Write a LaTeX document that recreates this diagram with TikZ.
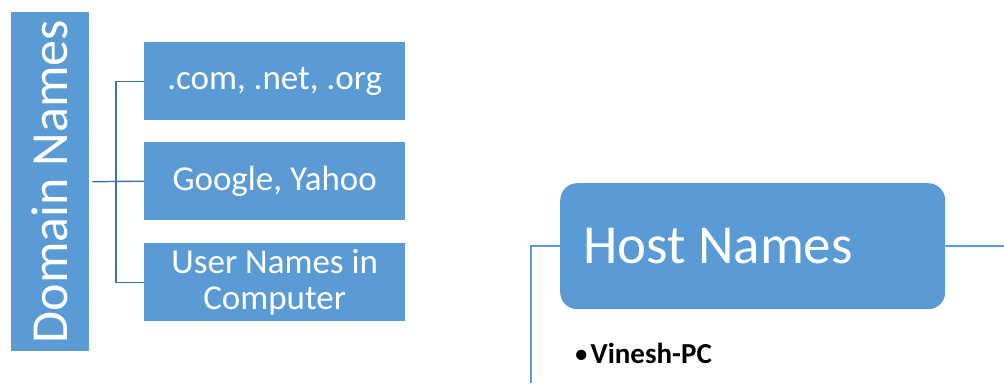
\documentclass[tikz,border=0pt]{standalone}
\usepackage{fontspec}
\setmainfont{Carlito}
\definecolor{boxblue}{HTML}{5B9BD5}
\definecolor{linkdark}{HTML}{41719C}
\begin{document}
\begin{tikzpicture}[x=1pt,y=-1pt,
  blockbox/.style={fill=boxblue,draw=none,text=white,inner sep=0pt,anchor=north west},
  leafbox/.style={blockbox,minimum width=261pt,minimum height=78pt,align=center,
    font=\fontsize{35}{36}\selectfont},
  darklink/.style={draw=linkdark,line width=1.4pt},
  lightlink/.style={draw=boxblue,line width=2pt}]
\useasboundingbox (0,0) rectangle (1004,383);

% Domain names column and its three children
\node[blockbox,minimum width=78pt,minimum height=339pt] (domain) at (11,12) {};
\node[text=white,rotate=90,font=\fontsize{52}{54}\selectfont,inner sep=0pt]
  (domaintext) at (domain.center) {Domain Names};

\node[leafbox] (tld) at (144,42) {.com, .net, .org};
\node[leafbox] (sites) at (144,142) {Google, Yahoo};
\node[leafbox] (users) at (144,243) {User Names in\\Computer};

\coordinate (hub) at (116,181);
\draw[darklink] (domain.east) ++(3,0) -- (sites.west);
\draw[darklink] (tld.west) -| (hub) |- (users.west);

% Host names block
\node[blockbox,rounded corners=17pt,minimum width=385pt,minimum height=126pt] (host) at (560,183) {};
\node[text=white,font=\fontsize{55}{57}\selectfont,anchor=west,inner sep=0pt]
  (hosttext) at (583,246) {Host Names};
\coordinate (leftdrop) at (531,383);
\coordinate (rightend) at (1004,246);
\draw[lightlink] (host.west) -| (leftdrop);
\draw[lightlink] (host.east) -- (rightend);

\node[anchor=base west,inner sep=0pt,font=\fontsize{29}{30}\selectfont\bfseries]
  (vinesh) at (574,363) {{\mdseries\textbullet}\hspace{2pt}Vinesh-PC};
\end{tikzpicture}
\end{document}
